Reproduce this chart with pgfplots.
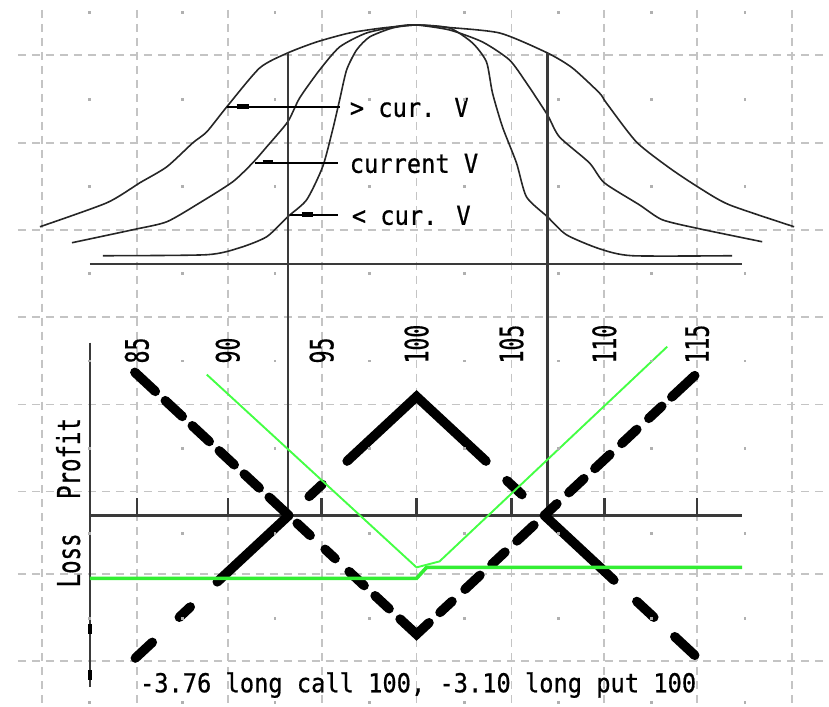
\documentclass[border=0pt]{standalone}
\usepackage{fontspec}
\usepackage{pgfplots}
\pgfplotsset{compat=1.18}
\newfontfamily\dmono[FakeBold=0.7]{DejaVu Sans Mono}
\definecolor{gridc}{HTML}{C4C4C4}
\definecolor{dotc}{HTML}{B0B0B0}
\definecolor{axc}{HTML}{3A3A3A}
\definecolor{grn}{HTML}{33EE33}
\definecolor{grnt}{HTML}{44FF44}
\newcommand\lbl{\dmono\fontsize{23.8}{24}\selectfont}
\newcommand\tlbl{\dmono\fontsize{21.5}{22}\selectfont}

\begin{document}
\begin{tikzpicture}
\begin{axis}[
  width=829bp, height=706bp, scale only axis,
  xmin=0, xmax=829, ymin=0, ymax=706, y dir=reverse,
  axis line style={draw=none}, xtick=\empty, ytick=\empty,
  clip=false, unbounded coords=jump,
]
% page frame (keeps the bounding box)
\addplot[draw=none] coordinates {(0,0) (829,706)};

% grid
\addplot[gridc, line width=1.8bp, dash pattern=on 8bp off 6bp] coordinates {
  (42,10) (42,706) (0,nan) (137,10) (137,706) (0,nan) (228,10) (228,706) (0,nan)
  (322,10) (322,706) (0,nan) (417,10) (417,706) (0,nan) (512,10) (512,706) (0,nan)
  (605,10) (605,706) (0,nan) (698,10) (698,706) (0,nan) (793,10) (793,706)
};
\addplot[gridc, line width=1.8bp, dash pattern=on 8bp off 6bp] coordinates {
  (18,55) (829,55) (0,nan) (18,143) (829,143) (0,nan) (18,230) (829,230) (0,nan)
  (18,317) (829,317) (0,nan) (18,405) (829,405) (0,nan) (18,492) (829,492) (0,nan)
  (18,575) (829,575) (0,nan) (18,662) (829,662)
};
% cell centre dots
\addplot[only marks, mark=square*, mark size=0.9bp, dotc] coordinates {
  (89.5,12) (182.5,12) (275,12) (369.5,12) (464.5,12) (558.5,12) (651.5,12) (745.5,12)
  (89.5,99) (182.5,99) (275,99) (369.5,99) (464.5,99) (558.5,99) (651.5,99) (745.5,99)
  (89.5,186.5) (182.5,186.5) (275,186.5) (369.5,186.5) (464.5,186.5) (558.5,186.5) (651.5,186.5) (745.5,186.5)
  (89.5,273.5) (182.5,273.5) (275,273.5) (369.5,273.5) (464.5,273.5) (558.5,273.5) (651.5,273.5) (745.5,273.5)
  (89.5,361) (182.5,361) (275,361) (369.5,361) (464.5,361) (558.5,361) (651.5,361) (745.5,361)
  (89.5,448.5) (182.5,448.5) (275,448.5) (369.5,448.5) (464.5,448.5) (558.5,448.5) (651.5,448.5) (745.5,448.5)
  (89.5,533.5) (182.5,533.5) (275,533.5) (369.5,533.5) (464.5,533.5) (558.5,533.5) (651.5,533.5) (745.5,533.5)
  (89.5,618.5) (182.5,618.5) (275,618.5) (369.5,618.5) (464.5,618.5) (558.5,618.5) (651.5,618.5) (745.5,618.5)
  (89.5,703) (182.5,703) (275,703) (369.5,703) (464.5,703) (558.5,703) (651.5,703) (745.5,703)
};

% distributions: > cur. V, current V, < cur. V
\addplot[black!85, line width=1.6bp, smooth, tension=0.4] coordinates {
  (40,227) (107,203) (140,183) (167,167) (193,143) (207,132) (227,107) (260,68)
  (288,53) (317,42) (350,33) (383,28) (417,25) (443,27) (500,33) (548,53)
  (573,68) (600,93) (607,103) (637,142) (670,168) (700,188) (730,205) (795,227)
};
\addplot[black!85, line width=1.6bp, smooth, tension=0.4] coordinates {
  (72,243) (133,230) (167,222) (200,203) (233,182) (253,163) (267,147) (288,122)
  (300,98) (320,70) (340,47) (367,33) (400,26) (417,25) (450,30) (483,42)
  (510,60) (527,83) (548,115) (560,137) (590,163) (605,183) (640,205) (663,220)
  (700,229) (763,242)
};
\addplot[black!85, line width=1.6bp, smooth, tension=0.4] coordinates {
  (103,256) (207,255) (240,248) (267,237) (288,217) (307,200) (323,167) (333,130)
  (340,100) (347,70) (357,50) (370,37) (393,28) (417,25) (450,28) (473,43)
  (487,62) (493,93) (503,127) (517,163) (527,197) (548,217) (567,235) (600,249)
  (633,256) (733,256)
};
% base line, breakeven verticals
\addplot[axc, line width=2.4bp] coordinates {(90,264.5) (743,264.5)};
\addplot[axc, line width=2.4bp] coordinates {(288.5,53) (288.5,516) (0,nan) (548,53) (548,516)};

% label leaders
\addplot[black, line width=2bp] coordinates {(227,107) (340,107) (0,nan) (255,163) (338,163) (0,nan) (290,215) (338,215)};
\addplot[black, line width=5bp] coordinates {(237,107) (249,107) (0,nan) (302,215) (313,215)};
\addplot[black, line width=3bp] coordinates {(263,161.5) (273,161.5)};
\node[anchor=base west, inner sep=0pt, yscale=1.1, font=\lbl] at (axis cs:350,117) {> cur. V};
\node[anchor=base west, inner sep=0pt, yscale=1.1, font=\lbl] at (axis cs:350,173) {current V};
\node[anchor=base west, inner sep=0pt, yscale=1.1, font=\lbl] at (axis cs:352,225) {< cur. V};

% profit/loss axes
\addplot[axc, line width=2.6bp] coordinates {(90,516) (743,516)};
\addplot[axc, line width=2.4bp] coordinates {(90,343) (90,688)};
\addplot[black, line width=4.5bp] coordinates {(90,625) (90,635) (0,nan) (90,671) (90,681)};
\addplot[axc, line width=2.4bp] coordinates {
  (137,499) (137,516) (0,nan) (228,499) (228,516) (0,nan) (322,499) (322,516) (0,nan)
  (417,499) (417,516) (0,nan) (512,499) (512,516) (0,nan) (605,499) (605,516) (0,nan)
  (698,499) (698,516)
};
\foreach \px/\lab in {137/85,228/90,322/95,417/100,512/105,605/110,698/115} {
  \edef\temp{\noexpand\node[rotate=90, yscale=1.5, anchor=west, inner sep=0pt, font=\noexpand\tlbl] at (axis cs:\px,364) {\lab};}
  \temp
}
\node[rotate=90, yscale=1.4, anchor=base, inner sep=0pt, font=\dmono\fontsize{22.5}{23}\selectfont] at (axis cs:80,459) {Profit};
\node[rotate=90, yscale=1.4, anchor=base, inner sep=0pt, font=\dmono\fontsize{22.5}{23}\selectfont] at (axis cs:80,561) {Loss};

% long straddle (dashed V)
\addplot[black, line width=9.5bp, line cap=round] coordinates {
  (135,372.7) (155.5,391.8) (0,nan) (165.5,401.1) (182.5,416.9) (0,nan)
  (192.5,426.2) (209.5,442) (0,nan) (219.5,451.3) (234.5,465.3) (0,nan)
  (244.5,474.6) (259.5,488.5) (0,nan) (269.5,497.8) (289,516) (0,nan)
  (297.5,523.9) (310.5,536) (0,nan) (325.5,549.9) (335.5,559.2) (0,nan)
  (349.5,572.2) (364.5,586.2) (0,nan) (375.5,596.4) (389.5,609.4) (0,nan)
  (400.5,619.7) (417,635) (429.5,623.4) (0,nan) (440.5,613.1) (452.5,602) (0,nan)
  (465.5,589.9) (480.5,575.9) (0,nan) (492.5,564.8) (505.5,552.7) (0,nan)
  (517.5,541.5) (534.5,525.7) (0,nan) (545,516) (557.5,504.3) (0,nan)
  (569.5,493.2) (584.5,479.2) (0,nan) (595.5,469) (610.5,455) (0,nan)
  (622.5,443.9) (637.5,429.9) (0,nan) (649.5,418.8) (662.5,406.7) (0,nan)
  (672.5,397.4) (695.5,376)
};
% short straddle (inverted V)
\addplot[black, line width=9.5bp, line cap=round] coordinates {
  (135.5,658.8) (152.5,643) (0,nan) (179.5,617.9) (190.5,607.6) (0,nan)
  (217.5,582.5) (289,516) (0,nan) (309.5,497) (322.5,484.9) (0,nan)
  (347.5,461.6) (417,397) (486.5,461.6) (0,nan) (507.5,481.2) (522.5,495.1) (0,nan)
  (545,516) (614.5,580.7) (0,nan) (637.5,602.1) (654.5,617.9) (0,nan)
  (675.5,637.4) (695.5,656)
};

% green lines
\addplot[grn, line width=3.6bp] coordinates {(90,579) (417,579) (427,568) (743,568)};
\addplot[grnt, line width=1.9bp] coordinates {(207,375) (417,568) (440,562) (668,347)};

\node[anchor=base west, inner sep=0pt, yscale=1.1, font=\lbl] at (axis cs:140,693) {-3.76 long call 100, -3.10 long put 100};
\end{axis}
\end{tikzpicture}
\end{document}
